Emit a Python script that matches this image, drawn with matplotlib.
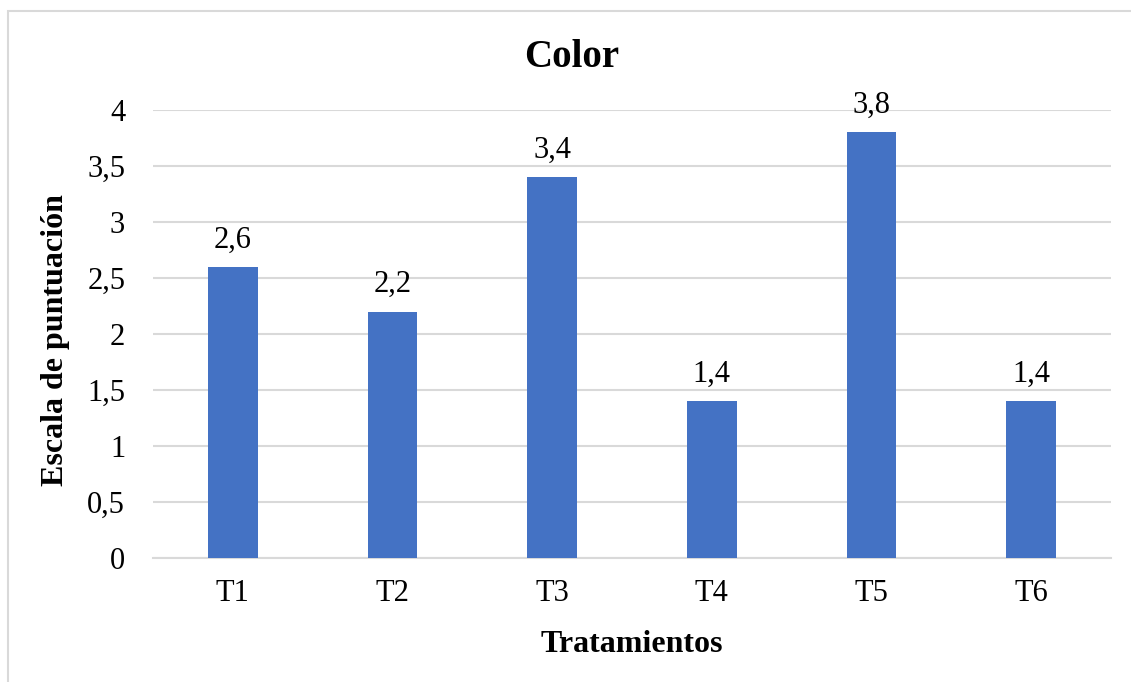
import matplotlib
matplotlib.use("Agg")
import matplotlib.pyplot as plt
from matplotlib.patches import Rectangle
from matplotlib.ticker import FuncFormatter

treatments = ["T1", "T2", "T3", "T4", "T5", "T6"]
scores = [2.6, 2.2, 3.4, 1.4, 3.8, 1.4]
y_ticks = [0, 0.5, 1, 1.5, 2, 2.5, 3, 3.5, 4]


def comma(v, pos=None):
    return f"{v:g}".replace(".", ",")


def main():
    plt.rcParams["font.family"] = ["Liberation Serif", "DejaVu Serif"]
    W, H = 1131, 682
    fig = plt.figure(figsize=(W / 100, H / 100), dpi=100)
    ax = fig.add_axes([153 / W, 1 - 558 / H, 958 / W, 448 / H])

    x = range(len(treatments))
    bars = ax.bar(x, scores, width=0.31, color="#4472C4", zorder=3)
    for b, v in zip(bars, scores):
        ax.annotate(comma(v), (b.get_x() + b.get_width() / 2, v),
                    xytext=(0, 14), textcoords="offset points",
                    ha="center", va="baseline", fontsize=22)

    ax.set_xlim(-0.5, len(treatments) - 0.5)
    ax.set_ylim(0, 4)
    ax.set_yticks(y_ticks)
    ax.yaxis.set_major_formatter(FuncFormatter(comma))
    ax.set_xticks(list(x))
    ax.set_xticklabels(treatments)
    ax.tick_params(axis="both", length=0, labelsize=22)
    ax.tick_params(axis="y", pad=20)
    ax.tick_params(axis="x", pad=15)
    ax.grid(axis="y", color="#d9d9d9", linewidth=1.5, zorder=0)
    for s in ("top", "right", "left"):
        ax.spines[s].set_visible(False)
    ax.spines["bottom"].set_color("#d9d9d9")
    ax.spines["bottom"].set_linewidth(1.5)

    fig.text(572 / W, 1 - 67 / H, "Color", fontsize=28, fontweight="bold",
             ha="center", va="baseline")
    fig.text(632 / W, 1 - 652 / H, "Tratamientos", fontsize=23,
             fontweight="bold", ha="center", va="baseline")
    fig.text(56 / W, 1 - 340 / H, "Escala de puntuación", fontsize=23,
             fontweight="bold", rotation=90, ha="center", va="center")

    # chart frame, cut off at the right and bottom edges
    fig.patches.append(Rectangle((8 / W, -0.1), 1.1, 1.1 - 11 / H,
                                 transform=fig.transFigure, fill=False,
                                 edgecolor="#d9d9d9", linewidth=1.5))

    fig.savefig("out.png", dpi=100)
    plt.close(fig)


if __name__ == "__main__":
    main()
